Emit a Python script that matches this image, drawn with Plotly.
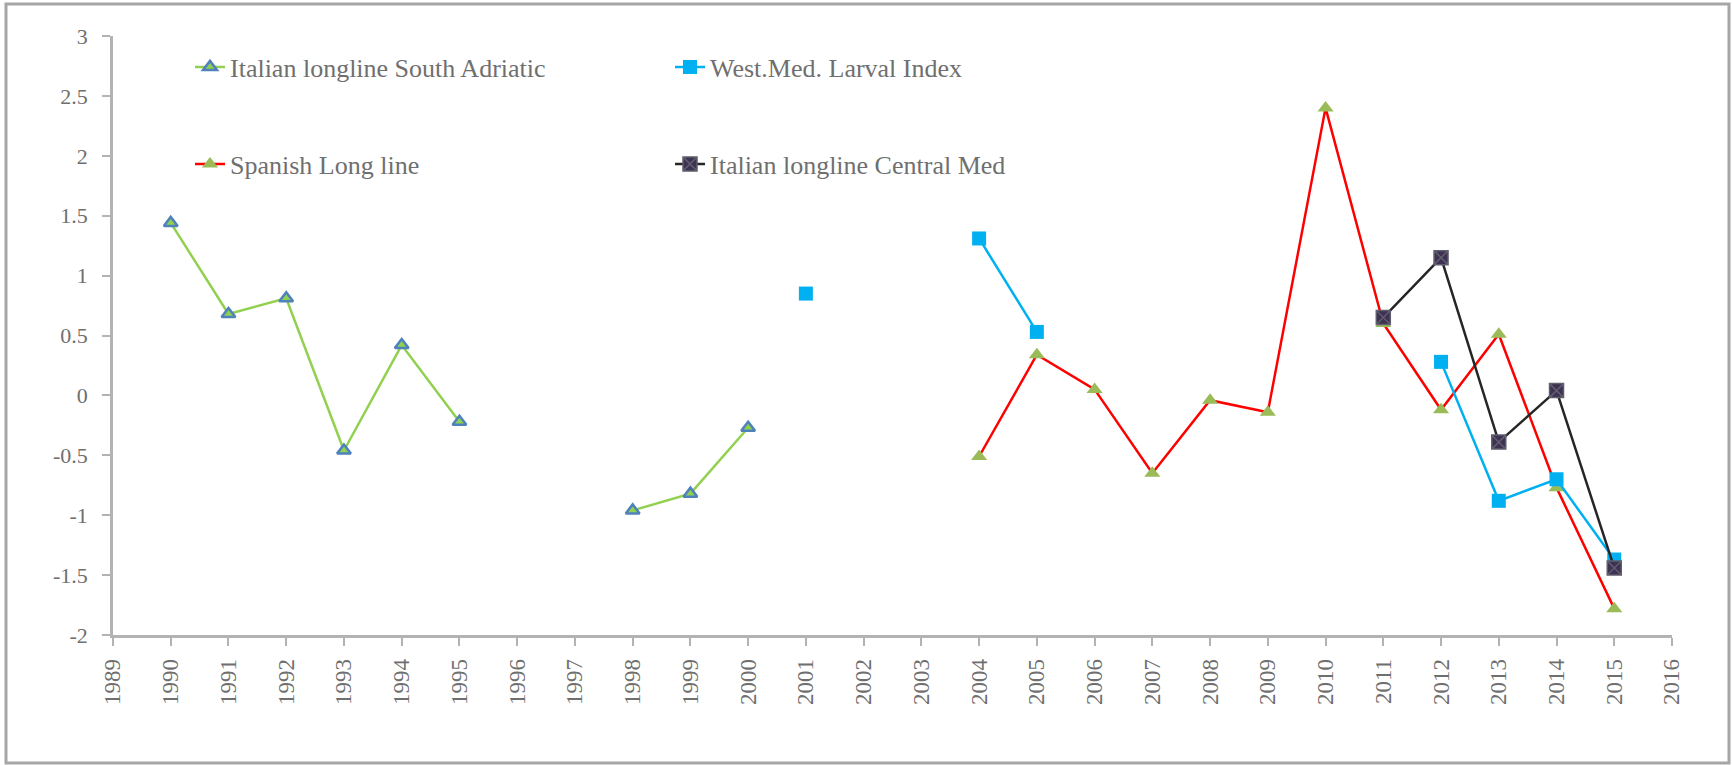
import plotly.graph_objects as go

# Years on the horizontal axis
years = list(range(1990, 2016))

# Standardised abundance indices per fleet / survey (None = no data)
south_adriatic = [1.44, 0.68, 0.81, -0.46, 0.42, -0.22, None, None, -0.96, -0.82,
                  -0.27, None, None, None, None, None, None, None, None, None,
                  None, None, None, None, None, None]
west_med_larval = [None, None, None, None, None, None, None, None, None, None,
                   None, 0.85, None, None, 1.31, 0.53, None, None, None, None,
                   None, None, 0.28, -0.88, -0.70, -1.37]
spanish_longline = [None, None, None, None, None, None, None, None, None, None,
                    None, None, None, None, -0.51, 0.34, 0.05, -0.65, -0.04, -0.14,
                    2.40, 0.60, -0.12, 0.51, -0.77, -1.78]
central_med = [None, None, None, None, None, None, None, None, None, None,
               None, None, None, None, None, None, None, None, None, None,
               None, 0.65, 1.15, -0.39, 0.04, -1.44]

x_ticks = list(range(1989, 2017))
y_ticks = [3, 2.5, 2, 1.5, 1, 0.5, 0, -0.5, -1, -1.5, -2]
y_tick_text = ["3", "2.5", "2", "1.5", "1", "0.5", "0", "-0.5", "-1", "-1.5", "-2"]

FONT = "Liberation Serif"
TEXT_GREY = "#6f6f6f"
AXIS_GREY = "#b3b3b3"

fig = go.Figure()

fig.add_trace(go.Scatter(
    x=years, y=south_adriatic, name="Italian longline South Adriatic",
    mode="lines+markers", connectgaps=False, showlegend=True,
    line=dict(color="#92D050", width=2.5),
    marker=dict(symbol="triangle-up", size=12, color="#92D050",
                line=dict(color="#4F81BD", width=2.5)),
    legend="legend",
))
fig.add_trace(go.Scatter(
    x=years, y=spanish_longline, name="Spanish Long line",
    mode="lines+markers", connectgaps=False, showlegend=True,
    line=dict(color="#FF0000", width=2.5),
    marker=dict(symbol="triangle-up", size=14, color="#9BBB59"),
    legend="legend2",
))
fig.add_trace(go.Scatter(
    x=years, y=west_med_larval, name="West.Med. Larval Index",
    mode="lines+markers", connectgaps=False, showlegend=True,
    line=dict(color="#00B0F0", width=2.5),
    marker=dict(symbol="square", size=14, color="#00B0F0"),
    legend="legend3",
))
fig.add_trace(go.Scatter(
    x=years, y=central_med, name="Italian longline Central Med",
    mode="lines+markers", connectgaps=False, showlegend=True,
    line=dict(color="#262626", width=2.5),
    marker=dict(symbol="square-x", size=14, color="#3F3151",
                line=dict(color="#5e5e6e", width=1.5)),
    legend="legend4",
))

# Plot area in pixels: left 113, right 1672, top 36, bottom 635
L, R, T, B = 113, 60, 36, 130
W, H = 1732, 765
pw, ph = W - L - R, H - T - B


def px_x(p):
    return (p - L) / pw


def px_y(p):
    return (H - B - p) / ph


legend_common = dict(
    font=dict(family=FONT, size=26, color=TEXT_GREY),
    bgcolor="rgba(0,0,0,0)", borderwidth=0,
    xanchor="left", yanchor="middle", itemwidth=30,
)

fig.update_layout(
    width=W, height=H,
    margin=dict(l=L, r=R, t=T, b=B),
    paper_bgcolor="white", plot_bgcolor="white",
    showlegend=True,
    font=dict(family=FONT, color=TEXT_GREY),
    legend=dict(x=px_x(190), y=px_y(67), **legend_common),
    legend2=dict(x=px_x(190), y=px_y(164), **legend_common),
    legend3=dict(x=px_x(670), y=px_y(67), **legend_common),
    legend4=dict(x=px_x(670), y=px_y(164), **legend_common),
    xaxis=dict(
        range=[1989, 2016], tickmode="array", tickvals=x_ticks,
        ticktext=[str(v) for v in x_ticks], tickangle=-90,
        showgrid=False, zeroline=False,
        showline=True, linecolor=AXIS_GREY, linewidth=2.5,
        ticks="outside", ticklen=8, tickwidth=2, tickcolor=AXIS_GREY,
        tickfont=dict(family=FONT, size=23, color=TEXT_GREY),
        ticklabelstandoff=4,
    ),
    yaxis=dict(
        range=[-2, 3], tickmode="array", tickvals=y_ticks, ticktext=y_tick_text,
        showgrid=False, zeroline=False,
        showline=True, linecolor=AXIS_GREY, linewidth=2.5,
        ticks="outside", ticklen=8, tickwidth=2, tickcolor=AXIS_GREY,
        tickfont=dict(family=FONT, size=22, color=TEXT_GREY),
        ticklabelstandoff=10,
    ),
    shapes=[dict(
        type="rect", xref="paper", yref="paper",
        x0=px_x(6), x1=px_x(1729), y0=px_y(763), y1=px_y(4),
        line=dict(color="#a6a6a6", width=3), fillcolor="rgba(0,0,0,0)",
        layer="below",
    )],
)

fig.write_html("out.html")
